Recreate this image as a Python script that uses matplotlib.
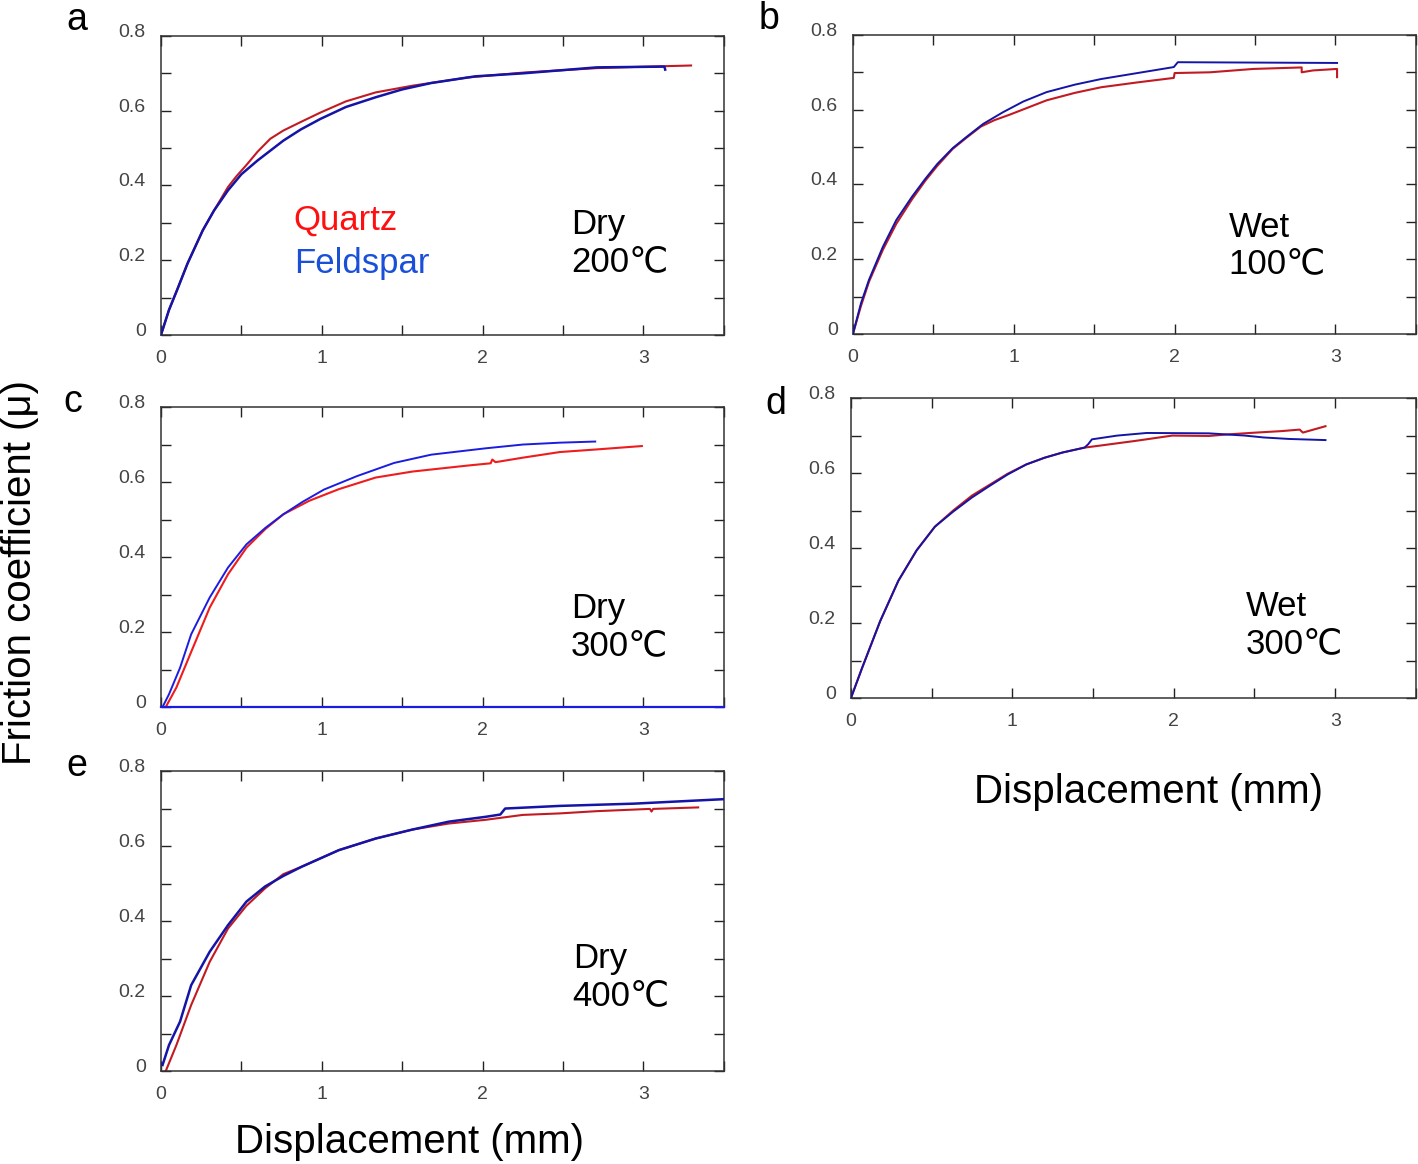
import matplotlib
matplotlib.use("Agg")
import matplotlib.pyplot as plt
import matplotlib.transforms as mtransforms
from matplotlib.ticker import MultipleLocator, FuncFormatter

plt.rcParams['font.family'] = ['Liberation Sans', 'DejaVu Sans']

# --- data (displacement mm, friction coefficient) ---
# a: dry 200C
a_q_x = [0, 0.05, 0.1, 0.165, 0.26, 0.33, 0.417, 0.47, 0.532, 0.6, 0.68, 0.761, 0.87, 0.991, 1.15, 1.335, 1.564, 1.908, 2.252, 2.711, 2.94, 3.296]
a_q_y = [0, 0.067, 0.12, 0.191, 0.28, 0.333, 0.396, 0.425, 0.455, 0.49, 0.525, 0.547, 0.57, 0.595, 0.625, 0.649, 0.667, 0.689, 0.702, 0.714, 0.717, 0.721]
a_f_x = [0, 0.05, 0.1, 0.165, 0.26, 0.33, 0.417, 0.5, 0.601, 0.761, 0.87, 0.991, 1.15, 1.335, 1.5, 1.679, 1.954, 2.25, 2.71, 3.13, 3.135]
a_f_y = [0, 0.067, 0.12, 0.191, 0.28, 0.333, 0.387, 0.43, 0.467, 0.52, 0.55, 0.578, 0.61, 0.636, 0.657, 0.674, 0.692, 0.70, 0.716, 0.718, 0.71]

# b: wet 100C
b_q_x = [0, 0.05, 0.1, 0.186, 0.27, 0.367, 0.45, 0.525, 0.62, 0.706, 0.796, 0.88, 0.977, 1.204, 1.38, 1.543, 1.769, 1.995, 2.0, 2.22, 2.49, 2.79, 2.79, 2.86, 3.01, 3.01]
b_q_y = [0, 0.075, 0.14, 0.225, 0.295, 0.36, 0.41, 0.45, 0.495, 0.525, 0.555, 0.572, 0.587, 0.625, 0.645, 0.66, 0.673, 0.685, 0.698, 0.70, 0.709, 0.713, 0.70, 0.705, 0.709, 0.687]
b_f_x = [0, 0.05, 0.1, 0.186, 0.27, 0.367, 0.45, 0.525, 0.62, 0.706, 0.81, 0.932, 1.06, 1.204, 1.38, 1.543, 1.769, 1.995, 2.02, 2.5, 3.01]
b_f_y = [0, 0.082, 0.145, 0.233, 0.305, 0.367, 0.415, 0.455, 0.497, 0.527, 0.562, 0.593, 0.622, 0.647, 0.667, 0.682, 0.698, 0.714, 0.727, 0.726, 0.725]

# c: dry 300C
c_q_x = [0.03, 0.096, 0.188, 0.303, 0.417, 0.532, 0.65, 0.761, 0.922, 1.106, 1.335, 1.564, 1.908, 2.05, 2.06, 2.08, 2.25, 2.48, 2.71, 2.99]
c_q_y = [0, 0.052, 0.147, 0.265, 0.354, 0.425, 0.475, 0.514, 0.55, 0.581, 0.612, 0.628, 0.644, 0.65, 0.66, 0.653, 0.665, 0.68, 0.687, 0.696]
c_f_x = [0.01, 0.05, 0.119, 0.188, 0.303, 0.417, 0.532, 0.65, 0.761, 0.88, 1.014, 1.22, 1.45, 1.68, 2.02, 2.25, 2.48, 2.70]
c_f_y = [0, 0.034, 0.105, 0.194, 0.292, 0.372, 0.434, 0.478, 0.514, 0.547, 0.58, 0.616, 0.651, 0.673, 0.69, 0.70, 0.705, 0.708]
c_base_x = [0, 3.5]
c_base_y = [0, 0]

# d: wet 300C
d_q_x = [0, 0.068, 0.181, 0.294, 0.407, 0.52, 0.633, 0.75, 0.86, 0.97, 1.086, 1.2, 1.312, 1.448, 1.538, 1.765, 1.991, 2.217, 2.33, 2.51, 2.67, 2.78, 2.80, 2.94]
d_q_y = [0, 0.079, 0.205, 0.313, 0.394, 0.457, 0.50, 0.54, 0.569, 0.598, 0.623, 0.641, 0.655, 0.668, 0.673, 0.686, 0.70, 0.699, 0.703, 0.708, 0.712, 0.716, 0.708, 0.725]
d_f_x = [0, 0.068, 0.181, 0.294, 0.407, 0.52, 0.633, 0.75, 0.86, 0.97, 1.086, 1.2, 1.312, 1.448, 1.47, 1.493, 1.65, 1.833, 2.217, 2.44, 2.557, 2.715, 2.94]
d_f_y = [0, 0.079, 0.205, 0.313, 0.394, 0.457, 0.497, 0.535, 0.566, 0.596, 0.623, 0.641, 0.655, 0.668, 0.677, 0.69, 0.70, 0.707, 0.706, 0.70, 0.695, 0.691, 0.688]

# e: dry 400C
e_q_x = [0.03, 0.096, 0.188, 0.303, 0.417, 0.53, 0.647, 0.761, 0.876, 1.106, 1.335, 1.564, 1.79, 2.02, 2.25, 2.48, 2.71, 3.04, 3.05, 3.06, 3.34]
e_q_y = [0, 0.069, 0.176, 0.291, 0.38, 0.44, 0.487, 0.525, 0.545, 0.589, 0.62, 0.644, 0.66, 0.67, 0.683, 0.687, 0.693, 0.699, 0.692, 0.699, 0.703]
e_f_x = [0.01, 0.05, 0.119, 0.188, 0.303, 0.417, 0.532, 0.647, 0.76, 0.876, 1.106, 1.335, 1.564, 1.79, 2.02, 2.11, 2.14, 2.48, 2.94, 3.5]
e_f_y = [0.016, 0.069, 0.132, 0.229, 0.318, 0.389, 0.452, 0.492, 0.52, 0.545, 0.589, 0.62, 0.644, 0.665, 0.678, 0.684, 0.70, 0.707, 0.713, 0.725]

panel_letters = ['a', 'b', 'c', 'd', 'e']
conditions = ['Dry\n200\u2103', 'Wet\n100\u2103', 'Dry\n300\u2103', 'Wet\n300\u2103', 'Dry\n400\u2103']
legend_labels = ['Quartz', 'Feldspar']

RED = '#c21a22'
BLUE = '#1414a6'

fig = plt.figure(figsize=(14.18, 11.64), dpi=100)

# axes rectangles in figure fraction
rects = [
    [0.1135, 0.7122, 0.3970, 0.2569],
    [0.6015, 0.7131, 0.3970, 0.2569],
    [0.1135, 0.3926, 0.3970, 0.2577],
    [0.6001, 0.4003, 0.3984, 0.2577],
    [0.1135, 0.0799, 0.3970, 0.2577],
]
series = [
    (a_q_x, a_q_y, a_f_x, a_f_y),
    (b_q_x, b_q_y, b_f_x, b_f_y),
    (c_q_x, c_q_y, c_f_x, c_f_y),
    (d_q_x, d_q_y, d_f_x, d_f_y),
    (e_q_x, e_q_y, e_f_x, e_f_y),
]
text_pos = [(2.55, 0.339), (2.335, 0.33), (2.55, 0.307), (2.447, 0.288), (2.56, 0.344)]
letter_pos = [(0.047, 0.983), (0.535, 0.984), (0.045, 0.655), (0.540, 0.653), (0.047, 0.342)]

up = mtransforms.ScaledTranslation(0, 4 / 72, fig.dpi_scale_trans)

axes = []
for i, r in enumerate(rects):
    ax = fig.add_axes(r)
    qx, qy, fx, fy = series[i]
    red, blue = RED, BLUE
    if i == 2:
        red, blue = '#ee1c1c', '#1c1ce0'
        ax.plot(c_base_x, c_base_y, color=blue, lw=1.6, clip_on=False, zorder=3)
    ax.plot(qx, qy, color=red, lw=1.5, zorder=2)
    ax.plot(fx, fy, color=blue, lw=1.8 if i in (0, 4) else 1.4, zorder=3)
    ax.set_xlim(0, 3.5)
    ax.set_ylim(0, 0.8)
    ax.xaxis.set_major_locator(MultipleLocator(1))
    ax.xaxis.set_minor_locator(MultipleLocator(0.5))
    ax.yaxis.set_major_locator(MultipleLocator(0.2))
    ax.yaxis.set_minor_locator(MultipleLocator(0.1))
    ax.yaxis.set_major_formatter(FuncFormatter(lambda v, p: f"{v:g}"))
    ax.tick_params(which='both', direction='in', top=True, right=True,
                   length=7, width=1.0, color='#222222')
    ax.tick_params(axis='x', which='major', pad=11, labelsize=14, labelcolor='#444444')
    ax.tick_params(axis='y', which='major', pad=11, labelsize=14, labelcolor='#444444')
    for s in ax.spines.values():
        s.set_color('#333333')
        s.set_linewidth(1.1)
    for lab in ax.get_yticklabels():
        lab.set_transform(lab.get_transform() + up)
    ax.text(text_pos[i][0], text_pos[i][1], conditions[i], fontsize=25,
            va='top', ha='left', linespacing=1.15)
    fig.text(letter_pos[i][0], letter_pos[i][1], panel_letters[i], fontsize=27,
             ha='left', va='center')
    axes.append(ax)

# legend as coloured text in panel a
axes[0].text(0.826, 0.350, legend_labels[0], color='#ff1010', fontsize=25, va='top', ha='left')
axes[0].text(0.826, 0.235, legend_labels[1], color='#1a4fd8', fontsize=25, va='top', ha='left')

fig.text(0.289, 0.019, 'Displacement (mm)', fontsize=29, ha='center', va='center')
fig.text(0.810, 0.320, 'Displacement (mm)', fontsize=29, ha='center', va='center')
fig.text(0.014, 0.508, 'Friction coefficient (\u03bc)', fontsize=29, rotation=90,
         ha='center', va='center')

fig.savefig('out.png', dpi=100)
